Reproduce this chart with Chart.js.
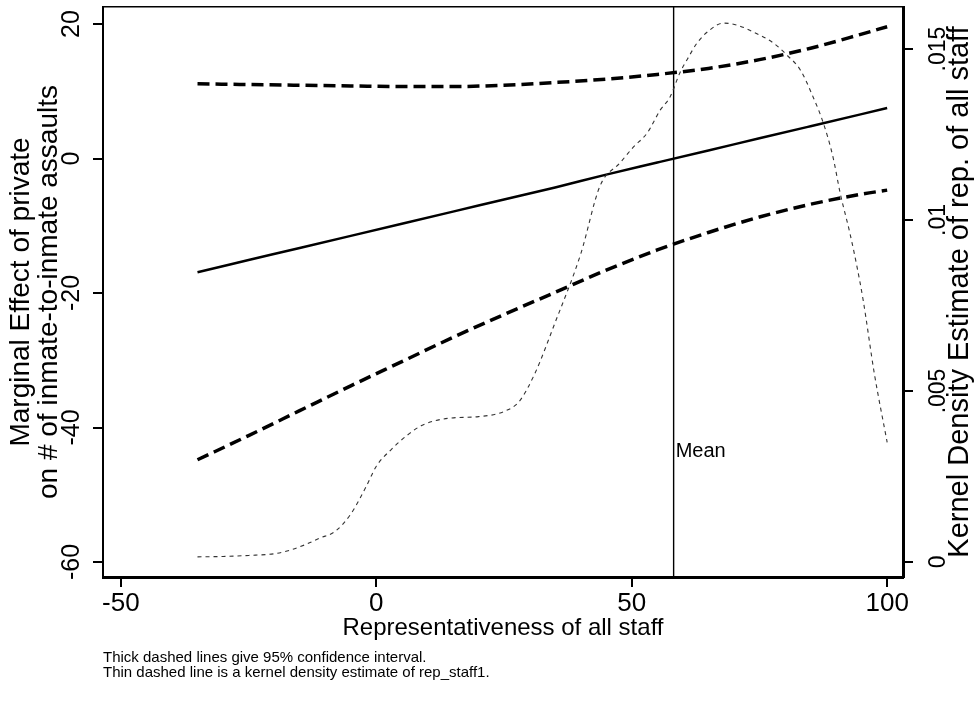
<!DOCTYPE html>
<html>
<head>
<meta charset="utf-8">
<script src="https://cdn.jsdelivr.net/npm/chart.js@4.4.1/dist/chart.umd.min.js"></script>
<style>
  html, body { margin: 0; padding: 0; background: #ffffff; }
  #wrap { width: 979px; height: 704px; }
</style>
</head>
<body>
<div id="wrap"><canvas id="chart" width="979" height="704"></canvas></div>
<script>
// Moderator values at which the marginal effect and its CI are evaluated
const repStaff = [-35, -25, -15, -5, 5, 15, 25, 35, 45, 55, 65, 75, 85, 95, 100];
const marginalEffect = [-16.9, -15.1, -13.3, -11.5, -9.7, -7.9, -6.1, -4.3, -2.4, -0.6, 1.2, 3.0, 4.8, 6.6, 7.5];
const ciUpper = [11.1, 11.0, 10.9, 10.8, 10.7, 10.7, 10.9, 11.3, 11.8, 12.5, 13.4, 14.7, 16.4, 18.5, 19.6];
const ciLower = [-44.8, -41.2, -37.5, -33.8, -30.2, -26.6, -23.2, -19.9, -16.6, -13.6, -11.0, -8.7, -6.8, -5.3, -4.7];

// Kernel density of rep_staff1
const kdeX = [-35, -30, -25, -20, -17, -14, -11, -8, -5, -2, 0, 3, 6, 9, 14, 20, 25, 28, 31, 35, 40,
  43.8, 47.7, 50.3, 53, 55.6, 57.5, 59.5, 60.8, 62.8, 65.3, 67.9, 70.6, 73.8, 77.7, 80.4, 83,
  85.5, 87.5, 89.4, 90.8, 92.7, 94.1, 95.3, 97.5, 100];
const kdeDensity = [0.00015, 0.00016, 0.00019, 0.00024, 0.00034, 0.0005, 0.0007, 0.0009, 0.0014, 0.0022,
  0.0028, 0.0033, 0.0037, 0.0040, 0.0042, 0.00425, 0.0044, 0.0047, 0.0055, 0.0070, 0.0090,
  0.0110, 0.01167, 0.01213, 0.01254, 0.01322, 0.0136, 0.01433, 0.01468, 0.01518, 0.01556, 0.01576,
  0.0157, 0.0155, 0.01518, 0.01482, 0.01439, 0.0136, 0.01284, 0.01184, 0.01079, 0.00962, 0.00863,
  0.00766, 0.0055, 0.0035];

const meanRep = 58.2;          // sample mean of rep_staff1
const meanLabelY = -43.5;      // height of the "Mean" caption on the effect axis

// Axis ranges and tick labels
const xRange = [-53.5, 103.1];
const effectRange = [-62.23, 22.53];
const densityRange = [-0.00044, 0.01623];
const xTicks = [-50, 0, 50, 100];
const effectTicks = [-60, -40, -20, 0, 20];
const densityTicks = [0, 0.005, 0.01, 0.015];

const xTitle = 'Representativeness of all staff';
const effectTitle = ['Marginal Effect of private', 'on # of inmate-to-inmate assaults'];
const densityTitle = 'Kernel Density Estimate of rep. of all staff';
const notes = ['Thick dashed lines give 95% confidence interval.',
               'Thin dashed line is a kernel density estimate of rep_staff1.'];

const SANS = '"Liberation Sans", Arial, Helvetica, sans-serif';

const pairs = (xs, ys) => xs.map((x, i) => ({ x: x, y: ys[i] }));
const fixTicks = (list) => (scale) => { scale.ticks = list.map(v => ({ value: v })); };
const fmtDensity = (v) => (v === 0 ? '0' : String(v).replace(/^0/, ''));

// Draws the "Mean" caption and the right-hand axis title (read bottom to top)
const annotations = {
  id: 'annotations',
  afterDraw(chart) {
    const { ctx, chartArea } = chart;
    const xs = chart.scales.x, ys = chart.scales.y, ds = chart.scales.y2;
    ctx.save();
    ctx.fillStyle = '#000';
    ctx.font = '20px ' + SANS;
    ctx.textAlign = 'left';
    ctx.textBaseline = 'middle';
    ctx.fillText('Mean', xs.getPixelForValue(meanRep) + 2, ys.getPixelForValue(meanLabelY));

    ctx.translate(ds.right - 19, (chartArea.top + chartArea.bottom) / 2);
    ctx.rotate(-Math.PI / 2);
    ctx.font = '29px ' + SANS;
    ctx.textAlign = 'center';
    ctx.fillText(densityTitle, 0, 0);
    ctx.restore();
  }
};

const lineBase = { pointRadius: 0, fill: false, cubicInterpolationMode: 'monotone', borderColor: '#000' };

new Chart(document.getElementById('chart'), {
  type: 'line',
  data: {
    datasets: [
      Object.assign({}, lineBase, { label: 'kde', data: pairs(kdeX, kdeDensity), yAxisID: 'y2',
        borderWidth: 1.1, borderColor: '#333', borderDash: [4, 4] }),
      Object.assign({}, lineBase, { label: 'upper', data: pairs(repStaff, ciUpper), yAxisID: 'y',
        borderWidth: 3.5, borderDash: [12, 6] }),
      Object.assign({}, lineBase, { label: 'lower', data: pairs(repStaff, ciLower), yAxisID: 'y',
        borderWidth: 3.5, borderDash: [12, 6] }),
      Object.assign({}, lineBase, { label: 'effect', data: pairs(repStaff, marginalEffect), yAxisID: 'y',
        borderWidth: 2.5 }),
      Object.assign({}, lineBase, { label: 'mean', yAxisID: 'y', borderWidth: 1.4,
        data: [{ x: meanRep, y: effectRange[0] }, { x: meanRep, y: effectRange[1] }] })
    ]
  },
  options: {
    responsive: false,
    animation: false,
    devicePixelRatio: 1,
    layout: { padding: { top: 7, left: 0, right: 0, bottom: 0 } },
    plugins: {
      legend: { display: false },
      tooltip: { enabled: false },
      title: {
        display: true, position: 'bottom', align: 'start', fullSize: false,
        text: notes, color: '#000',
        font: { family: SANS, size: 15, weight: 'normal', lineHeight: '15.5px' },
        padding: { top: 0, bottom: 23 }
      }
    },
    scales: {
      x: {
        type: 'linear', position: 'bottom', min: xRange[0], max: xRange[1],
        afterBuildTicks: fixTicks(xTicks),
        afterFit: (s) => { s.height = 73; s.paddingLeft = 0; s.paddingRight = 0; },
        grid: { display: true, drawOnChartArea: false, drawTicks: true, tickLength: 10, color: '#000', lineWidth: 2 },
        border: { display: true, color: '#000', width: 3 },
        ticks: { color: '#000', padding: 1, maxRotation: 0, font: { family: SANS, size: 26 },
          callback: (v) => String(v) },
        title: { display: true, text: xTitle, color: '#000', font: { family: SANS, size: 24, lineHeight: 1.1 },
          padding: { top: 0, bottom: 8 } }
      },
      x2: {
        type: 'linear', position: 'top', min: xRange[0], max: xRange[1],
        afterBuildTicks: fixTicks(xTicks),
        afterFit: (s) => { s.height = 0; s.paddingLeft = 0; s.paddingRight = 0; },
        grid: { display: false, drawTicks: false },
        border: { display: true, color: '#000', width: 1.5 },
        ticks: { display: false }
      },
      y: {
        type: 'linear', position: 'left', min: effectRange[0], max: effectRange[1],
        afterBuildTicks: fixTicks(effectTicks),
        afterFit: (s) => { s.width = 103; s.paddingTop = 0; s.paddingBottom = 0; },
        grid: { display: true, drawOnChartArea: false, drawTicks: true, tickLength: 10, color: '#000', lineWidth: 2 },
        border: { display: true, color: '#000', width: 2 },
        ticks: { color: '#000', minRotation: 90, maxRotation: 90, crossAlign: 'center',
          font: { family: SANS, size: 25 }, callback: (v) => String(v) },
        title: { display: true, text: effectTitle, color: '#000',
          font: { family: SANS, size: 28, lineHeight: 1.0 }, padding: { top: 7, bottom: 0 } }
      },
      y2: {
        type: 'linear', position: 'right', min: densityRange[0], max: densityRange[1],
        afterBuildTicks: fixTicks(densityTicks),
        afterFit: (s) => { s.width = 76; s.paddingTop = 0; s.paddingBottom = 0; },
        grid: { display: true, drawOnChartArea: false, drawTicks: true, tickLength: 10, color: '#000', lineWidth: 2 },
        border: { display: true, color: '#000', width: 3 },
        ticks: { color: '#000', minRotation: 90, maxRotation: 90, crossAlign: 'center',
          font: { family: SANS, size: 23 }, callback: fmtDensity },
        title: { display: false }
      }
    }
  },
  plugins: [annotations]
});
</script>
</body>
</html>
